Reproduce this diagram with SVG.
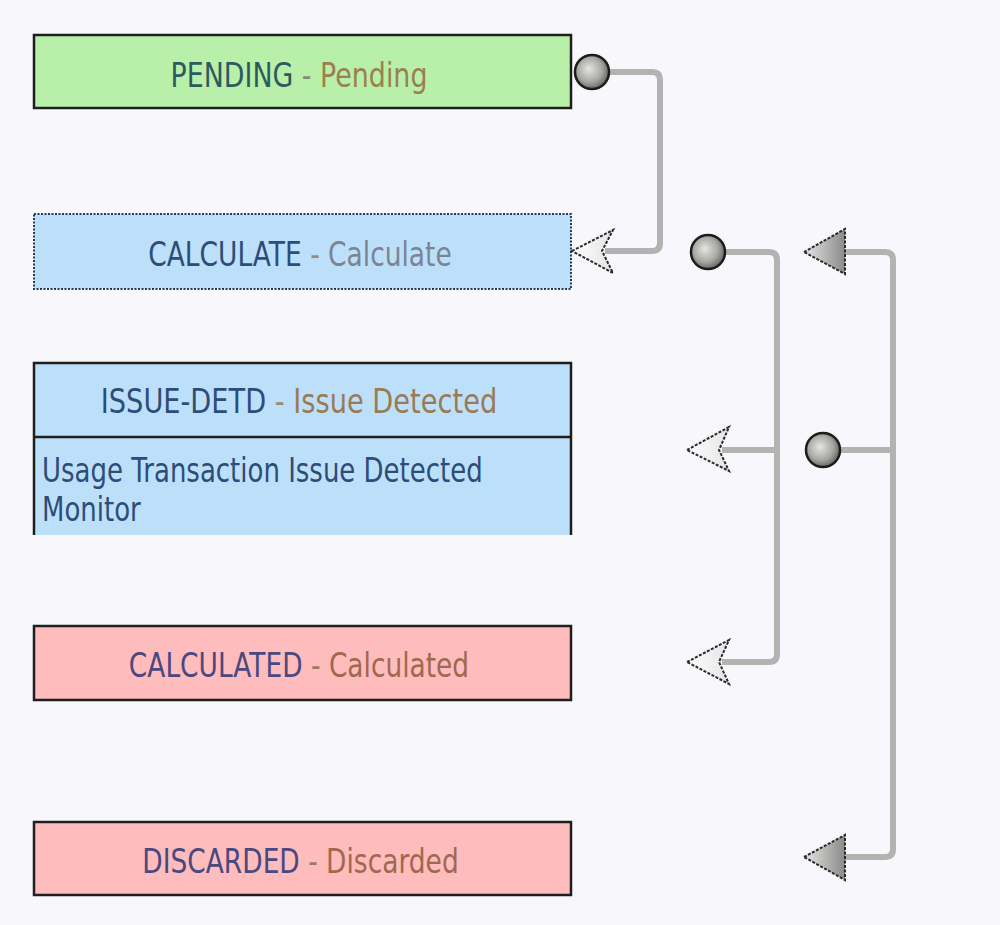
<svg xmlns="http://www.w3.org/2000/svg" width="1000" height="925" viewBox="0 0 1000 925">
<defs>
<radialGradient id="ball" cx="0.45" cy="0.45" r="0.6" fx="0.4" fy="0.4">
<stop offset="0" stop-color="#e4e4e0"/>
<stop offset="0.6" stop-color="#a8a8a4"/>
<stop offset="1" stop-color="#5a5a58"/>
</radialGradient>
<linearGradient id="tri" x1="0" y1="0" x2="1" y2="0">
<stop offset="0" stop-color="#e6e6e4"/>
<stop offset="1" stop-color="#8a8a88"/>
</linearGradient>
<linearGradient id="chev" x1="0" y1="0" x2="1" y2="0">
<stop offset="0" stop-color="#ffffff"/>
<stop offset="1" stop-color="#e4e4e4"/>
</linearGradient>
</defs>
<style>
.box{stroke:#1e1e1e;stroke-width:2.5}
.t{font-family:"DejaVu Sans","Liberation Sans",sans-serif;font-size:33px;text-anchor:middle}
.b{font-family:"DejaVu Sans","Liberation Sans",sans-serif;font-size:33px}
.wire{fill:none;stroke:#b3b3b1;stroke-width:6;stroke-linejoin:round}
.ball{fill:url(#ball);stroke:#1c1c1c;stroke-width:2.5}
.chev{fill:url(#chev);stroke:#2a2a2a;stroke-width:2;stroke-dasharray:3 1.5;stroke-linejoin:miter}
.tri{fill:url(#tri);stroke:#2a2a2a;stroke-width:2;stroke-dasharray:3 1.5}
</style>
<rect width="1000" height="925" fill="#f8f8fc"/>

<g id="pending">
<rect class="box" x="34" y="35" width="537" height="73" fill="#b9f0a9"/>
<text class="t" transform="translate(299,87) scale(0.814,1)"><tspan fill="#2c5a60">PENDING</tspan><tspan fill="#8a8a70"> - </tspan><tspan fill="#9a8050">Pending</tspan></text>
</g>

<g id="calculate">
<rect x="34" y="214" width="537" height="75" fill="#bde0fa" stroke="#2a3a50" stroke-width="2" stroke-dasharray="2 1.5"/>
<text class="t" transform="translate(300,266) scale(0.8024,1)"><tspan fill="#2e4c78">CALCULATE</tspan><tspan fill="#9a8a70"> - </tspan><tspan fill="#7c8494">Calculate</tspan></text>
</g>

<g id="issue-detd">
<rect x="34" y="363" width="537" height="172" fill="#bde0fa"/>
<path class="box" d="M34,535 V363 H571 V535" fill="none"/>
<line class="box" x1="34" y1="437" x2="571" y2="437"/>
<text class="t" transform="translate(299,413) scale(0.8254,1)"><tspan fill="#2e4c78">ISSUE-DETD</tspan><tspan fill="#9a8a70"> - </tspan><tspan fill="#9a7a55">Issue Detected</tspan></text>
<text class="b" transform="translate(42,482) scale(0.788,1)" fill="#2e4c78">Usage Transaction Issue Detected</text>
<text class="b" transform="translate(42,521) scale(0.788,1)" fill="#2e4c78">Monitor</text>
</g>

<g id="calculated">
<rect class="box" x="34" y="626" width="537" height="74" fill="#ffbcbd"/>
<text class="t" transform="translate(299,677) scale(0.8017,1)"><tspan fill="#4a4880">CALCULATED</tspan><tspan fill="#9a7a60"> - </tspan><tspan fill="#a06850">Calculated</tspan></text>
</g>

<g id="discarded">
<rect class="box" x="34" y="822" width="537" height="73" fill="#ffbcbd"/>
<text class="t" transform="translate(300.5,873) scale(0.8023,1)"><tspan fill="#4a4880">DISCARDED</tspan><tspan fill="#9a7a60"> - </tspan><tspan fill="#a06850">Discarded</tspan></text>
</g>

<g id="connectors">
<path class="wire" d="M608,72 H652 Q660,72 660,80 V243 Q660,251 652,251 H605"/>
<path class="wire" d="M724,252 H769 Q777,252 777,260 V654 Q777,662 769,662 H722"/>
<path class="wire" d="M777,450 H722"/>
<path class="wire" d="M839,450 H893"/>
<path class="wire" d="M845,252 H885 Q893,252 893,260 V849 Q893,857 885,857 H845"/>

<circle class="ball" cx="592" cy="72" r="17"/>
<path class="chev" d="M572,251 L613,230 L602,251 L613,273 Z"/>

<circle class="ball" cx="708" cy="252" r="17"/>
<path class="chev" d="M687,450 L729,427 L719,450 L729,471 Z"/>
<path class="chev" d="M687,662 L729,640 L719,662 L729,684 Z"/>

<circle class="ball" cx="823" cy="450" r="17"/>
<path class="tri" d="M804,252 L845,229 L845,274 Z"/>
<path class="tri" d="M804,857 L845,835 L845,880 Z"/>
</g>
</svg>
